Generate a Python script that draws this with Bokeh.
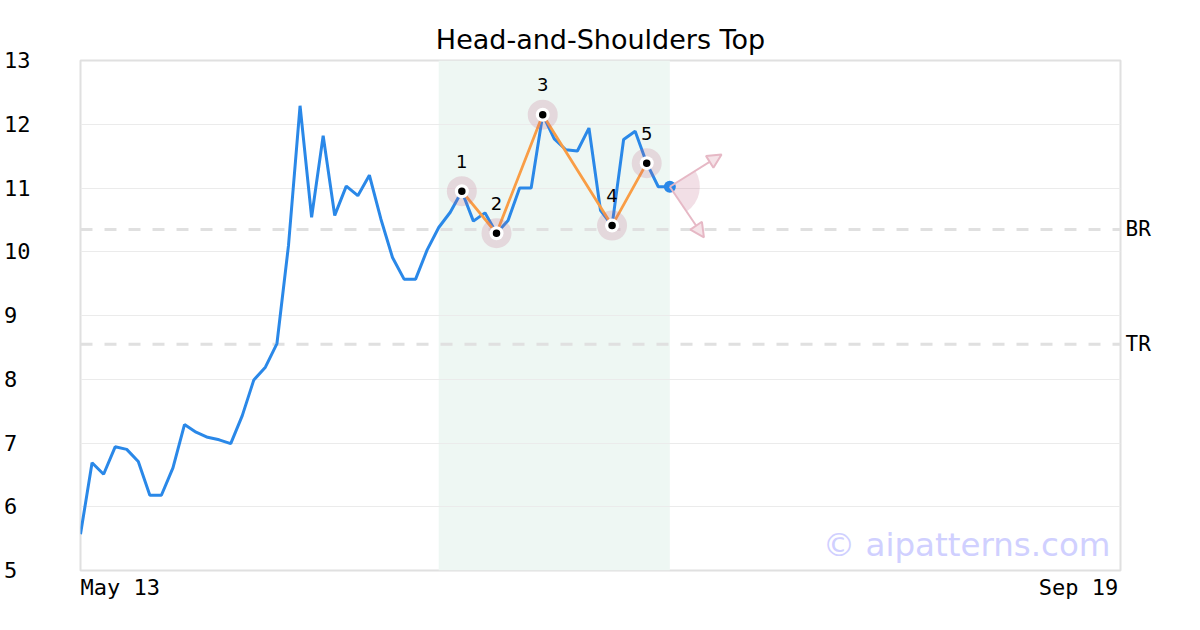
import math
from bokeh.plotting import figure
from bokeh.models import Range1d, FixedTicker, BoxAnnotation, Span, Label, Arrow, NormalHead, LinearAxis
from bokeh.core.properties import value
from bokeh.embed import file_html
from bokeh.resources import INLINE

# ---------------- data ----------------
title_text = "Head-and-Shoulders Top"
close = [5.57, 6.69, 6.51, 6.94, 6.90, 6.71, 6.18, 6.18, 6.61, 7.29,
         7.17, 7.09, 7.05, 6.99, 7.43, 7.99, 8.19, 8.56, 10.10, 12.29,
         10.54, 11.82, 10.57, 11.03, 10.88, 11.20, 10.51, 9.91, 9.57, 9.57,
         10.03, 10.38, 10.62, 10.95, 10.48, 10.61, 10.29, 10.49, 11.00, 11.00,
         12.15, 11.77, 11.60, 11.58, 11.94, 10.65, 10.41, 11.76, 11.89, 11.39,
         11.02, 11.02]
x_idx = list(range(len(close)))
x_last_slot = 90
x_tick_pos = [0, 90]
x_tick_labels = ["May 13", "Sep 19"]
y_ticks = [5, 6, 7, 8, 9, 10, 11, 12, 13]
pivot_idx = [33, 36, 40, 46, 49]
pivot_names = ["1", "2", "3", "4", "5"]
pattern_start, pattern_end = 31, 51
level_values = [10.35, 8.55]
level_names = ["BR", "TR"]
projection_angles_deg = [32, -56]
watermark = "\u00a9 aipatterns.com"

pivot_x = pivot_idx
pivot_y = [close[i] for i in pivot_idx]
last_x, last_y = x_idx[-1], close[-1]

# ---------------- style / layout ----------------
W, H = 1184, 614
ML, MR, MT, MB = 80, 64, 60, 44
FRAME_W, FRAME_H = W - ML - MR, H - MT - MB
BLUE = "#2a88e8"
ORANGE = "#f99d45"
PINK = "#c06080"
MONO = "DejaVu Sans Mono"
SANS = "DejaVu Sans"
NB = "\u00a0"
TICK_FS = "22px"

p = figure(width=W, height=H, output_backend="svg", toolbar_location=None,
           x_range=Range1d(0, x_last_slot), y_range=Range1d(y_ticks[0], y_ticks[-1]),
           min_border_left=ML, min_border_right=MR, min_border_top=MT, min_border_bottom=MB)


def style_axis(ax, standoff, fs=TICK_FS):
    ax.axis_line_alpha = 0
    ax.major_tick_line_alpha = 0
    ax.minor_tick_line_alpha = 0
    ax.major_tick_in = 0
    ax.major_tick_out = 0
    ax.minor_tick_in = 0
    ax.minor_tick_out = 0
    ax.major_label_standoff = standoff
    ax.major_label_text_font = MONO
    ax.major_label_text_font_size = fs
    ax.major_label_text_color = "black"


# x axis: first label starts at the left edge, last ends at the right edge
xa = p.xaxis[0]
style_axis(xa, 4)
xa.ticker = FixedTicker(ticks=x_tick_pos)
xa.major_label_overrides = {
    x_tick_pos[0]: NB * len(x_tick_labels[0]) + x_tick_labels[0],
    x_tick_pos[1]: x_tick_labels[1] + NB * (len(x_tick_labels[1]) - 1),
}

# y axis: left-aligned numbers
ya = p.yaxis[0]
style_axis(ya, 50)
ya.ticker = FixedTicker(ticks=y_ticks)
wmax = max(len(str(v)) for v in y_ticks)
ya.major_label_overrides = {v: str(v) + NB * (wmax - len(str(v))) for v in y_ticks}

# right axis carrying the level names
ra = LinearAxis(ticker=FixedTicker(ticks=level_values),
                major_label_overrides=dict(zip(level_values, level_names)))
style_axis(ra, 5, "21px")
p.add_layout(ra, "right")

p.xgrid.visible = False
p.ygrid.grid_line_color = "#ebebeb"
p.ygrid.grid_line_width = 1
p.outline_line_color = "#e0e0e0"
p.outline_line_width = 2
p.background_fill_color = "white"
p.border_fill_color = "white"

p.title.text = title_text
p.title.align = "center"
p.title.text_font = SANS
p.title.text_font_size = "27px"
p.title.text_font_style = "normal"
p.title.text_color = "black"
p.title.standoff = 12

# pattern zone
p.add_layout(BoxAnnotation(left=pattern_start, right=pattern_end, fill_color="#eef7f3",
                           fill_alpha=1, line_alpha=0, level="image"))
# levels
for v in level_values:
    p.add_layout(Span(location=v, dimension="width", line_color="#e0e0e0",
                      line_width=3, line_dash="12 12", level="underlay"))

p.line(x_idx, close, line_color=BLUE, line_width=3)
p.line(pivot_x, pivot_y, line_color=ORANGE, line_width=2.8)
p.scatter(pivot_x, pivot_y, size=30, fill_color=PINK, fill_alpha=0.2, line_alpha=0)
p.scatter(pivot_x, pivot_y, size=14, fill_color="white", line_alpha=0)
p.scatter(pivot_x, pivot_y, size=7.5, fill_color="black", line_alpha=0)
p.text(pivot_x, pivot_y, text=pivot_names, text_font=value(SANS), text_font_size="18px",
       text_align="center", text_baseline="middle", y_offset=-30, text_color="black")

# projection wedge + arrows
p.wedge(x=[last_x], y=[last_y], radius=30, radius_units="screen",
        start_angle=math.radians(min(projection_angles_deg)),
        end_angle=math.radians(max(projection_angles_deg)),
        fill_color=PINK, fill_alpha=0.2, line_alpha=0)
ARROW_LEN = 61
dx_per_px = x_last_slot / FRAME_W
dy_per_px = (y_ticks[-1] - y_ticks[0]) / FRAME_H
for a in projection_angles_deg:
    r = math.radians(a)
    p.add_layout(Arrow(x_start=last_x, y_start=last_y,
                       x_end=last_x + ARROW_LEN * math.cos(r) * dx_per_px,
                       y_end=last_y + ARROW_LEN * math.sin(r) * dy_per_px,
                       line_color="#e6b8c5", line_width=2,
                       end=NormalHead(size=14, fill_color="#f5e3e8", line_color="#e6b8c5",
                                      line_width=2)))
p.scatter([last_x], [last_y], size=12, fill_color=BLUE, line_alpha=0)

p.add_layout(Label(x=x_last_slot, y=y_ticks[0], x_offset=-10, y_offset=26, text=watermark,
                   text_align="right", text_baseline="alphabetic", text_font=SANS,
                   text_font_size="32.5px", text_color="#d0d0ff"))

open("out.html", "w").write(file_html(p, INLINE))
